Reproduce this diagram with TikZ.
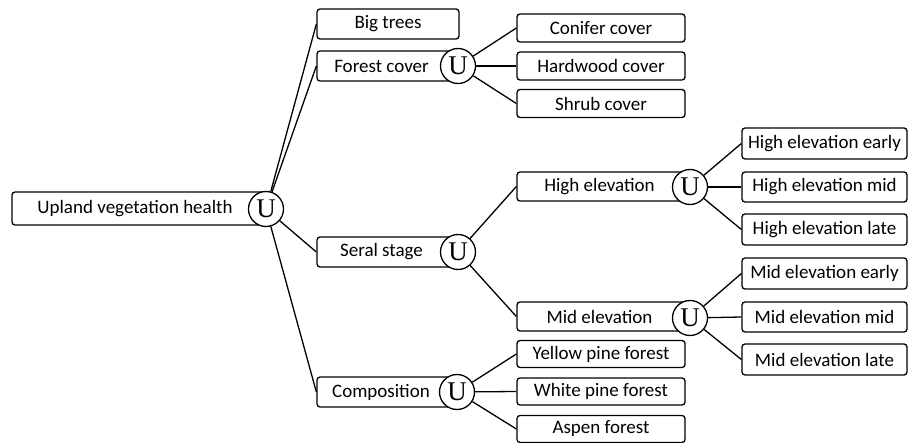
\documentclass[tikz,border=0pt]{standalone}
\usepackage{fontspec}
\setmainfont{Carlito}
\newfontfamily\ufont{Liberation Serif}
\begin{document}
\begin{tikzpicture}[x=1pt,y=-1pt,
  box/.style={draw,line width=1.3pt,rounded corners=3pt,inner sep=0pt,font=\fontsize{19}{21}\selectfont},
  uc/.style={draw,circle,fill=white,line width=1.3pt,minimum size=35pt,inner sep=0pt,font=\ufont\fontsize{27}{27}\selectfont},
  ln/.style={line width=1.3pt}]
\useasboundingbox (0,0) rectangle (909,443);
% boxes
\node[box,minimum width=254pt,minimum height=33pt] (root) at (139,208.5) {\hspace*{-8pt}Upland vegetation health};
\node[box,minimum width=142pt,minimum height=30pt] (bt) at (388,24) {Big trees};
\node[box,minimum width=141pt,minimum height=30pt] (fc) at (387.5,66) {\hspace*{-12pt}Forest cover};
\node[box,minimum width=168pt,minimum height=28pt] (cc) at (601,28) {Conifer cover};
\node[box,minimum width=168pt,minimum height=28pt] (hc) at (601,66) {Hardwood cover};
\node[box,minimum width=168pt,minimum height=28pt] (sc) at (601,103.5) {Shrub cover};
\node[box,minimum width=141pt,minimum height=30pt] (ss) at (387.5,252) {\hspace*{-12pt}Seral stage};
\node[box,minimum width=173pt,minimum height=29pt] (he) at (603.5,186.5) {\hspace*{-8pt}High elevation};
\node[box,minimum width=173pt,minimum height=29pt] (me) at (603.5,316.5) {\hspace*{-8pt}Mid elevation};
\node[box,minimum width=165pt,minimum height=31pt] (hee) at (824.5,143.5) {High elevation early};
\node[box,minimum width=165pt,minimum height=30pt] (hem) at (824.5,187) {High elevation mid};
\node[box,minimum width=165pt,minimum height=31pt] (hel) at (824.5,229.5) {High elevation late};
\node[box,minimum width=165pt,minimum height=31pt] (mee) at (824.5,273.5) {Mid elevation early};
\node[box,minimum width=165pt,minimum height=30pt] (mem) at (824.5,317) {Mid elevation mid};
\node[box,minimum width=165pt,minimum height=31pt] (mel) at (824.5,359.5) {Mid elevation late};
\node[box,minimum width=140pt,minimum height=30pt] (co) at (387,392) {\hspace*{-12pt}Composition};
\node[box,minimum width=168pt,minimum height=27pt] (yp) at (601,354) {Yellow pine forest};
\node[box,minimum width=168pt,minimum height=27pt] (wp) at (601,391.5) {White pine forest};
\node[box,minimum width=168pt,minimum height=27pt] (ap) at (601,429) {Aspen forest};
% union circles
\node[uc] (u0) at (266,209) {U};
\node[uc] (u1) at (458,66) {U};
\node[uc] (u2) at (458,252) {U};
\node[uc] (u3) at (690,187) {U};
\node[uc] (u4) at (690,318) {U};
\node[uc] (u5) at (457,392) {U};
% connectors
\draw[ln] (u0) -- (bt.west);
\draw[ln] (u0) -- (fc.west);
\draw[ln] (u0) -- (ss.west);
\draw[ln] (u0) -- (co.west);
\draw[ln] (u1) -- (cc.west);
\draw[ln] (u1) -- (hc.west);
\draw[ln] (u1) -- (sc.west);
\draw[ln] (u2) -- (he.west);
\draw[ln] (u2) -- (me.west);
\draw[ln] (u3) -- (hee.west);
\draw[ln] (u3) -- (hem.west);
\draw[ln] (u3) -- (hel.west);
\draw[ln] (u4) -- (mee.west);
\draw[ln] (u4) -- (mem.west);
\draw[ln] (u4) -- (mel.west);
\draw[ln] (u5) -- (yp.west);
\draw[ln] (u5) -- (wp.west);
\draw[ln] (u5) -- (ap.west);
\end{tikzpicture}
\end{document}
